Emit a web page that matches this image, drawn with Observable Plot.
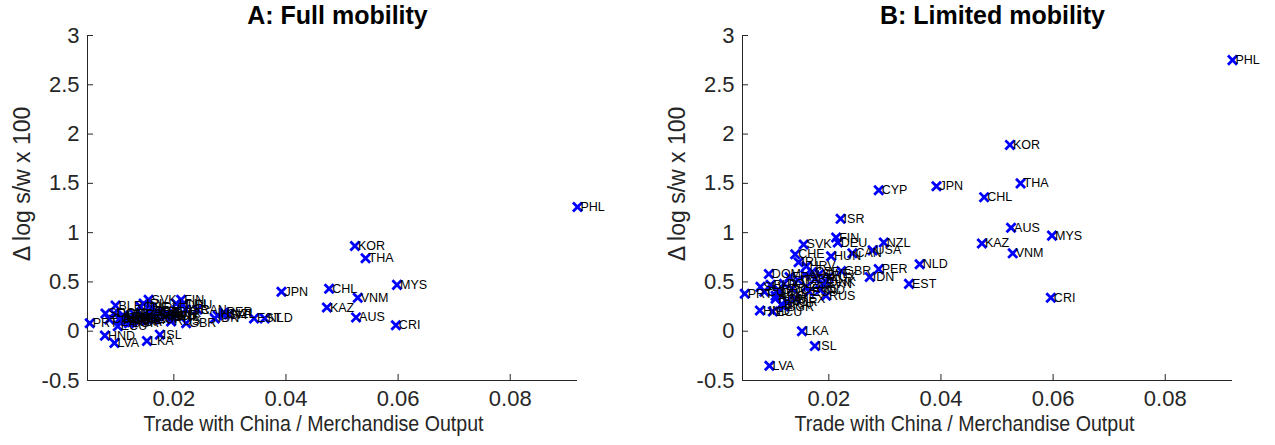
<!DOCTYPE html>
<html>
<head>
<meta charset="utf-8">
<script src="https://cdn.jsdelivr.net/npm/d3@7"></script>
<script src="https://cdn.jsdelivr.net/npm/@observablehq/plot@0.6"></script>
<style>
  html, body { margin: 0; padding: 0; background: #fff; }
  #wrap { position: relative; width: 1275px; height: 445px; overflow: hidden; }
  #wrap > div, #wrap > svg { position: absolute; top: 0; }
</style>
</head>
<body>
<div id="wrap"></div>
<script>
const countries = ["PHL","KOR","THA","JPN","CHL","CYP","ISR","AUS","MYS","KAZ","VNM","CRI","NLD","EST","IDN","PER","GBR","NZL","USA","FIN","DEU","SVK","CHE","HUN","CAN","IRL","HRV","DOM","PRT","HND","ECU","BRA","LKA","ISL","LVA","BLR","SLV","DNK","RUS","ESP","MEX","FRA","ITA","AUT","BEL","POL","CZE","SWE","NOR","GRC","TUR","ROU","BGR","LTU","SVN","IND","COL","ARG","ZAF","LUX"];
const tradeShare = [0.0920,0.0523,0.0542,0.0392,0.0477,0.0289,0.0221,0.0525,0.0598,0.0473,0.0528,0.0596,0.0362,0.0343,0.0273,0.0289,0.0222,0.0298,0.0278,0.0213,0.0216,0.0155,0.0140,0.0204,0.0242,0.0146,0.0160,0.0093,0.0050,0.0077,0.0100,0.0115,0.0152,0.0175,0.0094,0.0096,0.0078,0.0195,0.0195,0.0165,0.0140,0.0130,0.0145,0.0158,0.0175,0.0120,0.0170,0.0183,0.0125,0.0110,0.0135,0.0105,0.0120,0.0110,0.0190,0.0185,0.0085,0.0105,0.0160,0.0200];
const fullMobility = [1.26,0.865,0.74,0.40,0.43,0.17,0.22,0.14,0.47,0.24,0.34,0.06,0.13,0.13,0.13,0.19,0.08,0.17,0.16,0.32,0.27,0.32,0.25,0.28,0.22,0.28,0.24,0.18,0.08,-0.045,0.05,0.10,-0.10,-0.035,-0.12,0.26,0.18,0.14,0.10,0.12,0.11,0.17,0.16,0.19,0.18,0.14,0.20,0.16,0.09,0.13,0.12,0.11,0.08,0.16,0.17,0.15,0.12,0.14,0.14,0.18];
const limitedMobility = [2.75,1.89,1.50,1.47,1.36,1.43,1.14,1.05,0.97,0.89,0.79,0.34,0.68,0.48,0.55,0.63,0.61,0.90,0.82,0.95,0.90,0.88,0.78,0.76,0.79,0.70,0.66,0.58,0.38,0.21,0.20,0.27,0.00,-0.15,-0.35,0.47,0.45,0.50,0.36,0.40,0.33,0.55,0.52,0.57,0.53,0.48,0.60,0.58,0.30,0.42,0.43,0.33,0.25,0.38,0.48,0.42,0.40,0.36,0.45,0.55];

const panelTitles = ["A: Full mobility", "B: Limited mobility"];
const xTicks = [0.02, 0.04, 0.06, 0.08];
const xTickLabels = ["0.02", "0.04", "0.06", "0.08"];
const yTicks = [-0.5, 0, 0.5, 1, 1.5, 2, 2.5, 3];
const yTickLabels = ["-0.5", "0", "0.5", "1", "1.5", "2", "2.5", "3"];
const xLabel = "Trade with China / Merchandise Output";
const yLabel = "\u0394 log s/w x 100";

const xDomain = [0.0046, 0.092];
const yDomain = [-0.5, 3];
const font = "'Liberation Sans', Arial, Helvetica, sans-serif";
const ink = "#262626";

function panel(values, title, width, marginRight, xLabelDx) {
  const data = countries.map((c, i) => ({c, x: tradeShare[i], y: values[i]}));
  const plotW = width - 87 - marginRight;
  const plotH = 445 - 35 - 65;
  const xFmt = new Map(xTicks.map((t, i) => [t, xTickLabels[i]]));
  const yFmt = new Map(yTicks.map((t, i) => [t, yTickLabels[i]]));
  const svg = Plot.plot({
    width, height: 445,
    marginLeft: 87, marginRight, marginTop: 35, marginBottom: 65,
    style: {fontFamily: font, background: "transparent", overflow: "visible"},
    x: {domain: xDomain, axis: null},
    y: {domain: yDomain, axis: null},
    marks: [
      Plot.ruleX([xDomain[0]], {y1: yDomain[0], y2: yDomain[1], stroke: ink, strokeWidth: 1}),
      Plot.ruleY([yDomain[0]], {x1: xDomain[0], x2: xDomain[1], stroke: ink, strokeWidth: 1}),
      Plot.tickX(xTicks, {x: d => d, insetTop: plotH - 6, stroke: ink}),
      Plot.tickY(yTicks, {y: d => d, insetRight: plotW - 6, stroke: ink}),
      Plot.axisX({ticks: xTicks, tickFormat: d => xFmt.get(d), tickSize: 0, tickPadding: 10, fontSize: 22, fill: ink, label: null}),
      Plot.axisY({ticks: yTicks, tickFormat: d => yFmt.get(d), tickSize: 0, tickPadding: 8, fontSize: 22, fill: ink, label: null}),
      Plot.text([xLabel], {frameAnchor: "bottom", dy: 50, dx: xLabelDx, fontSize: 22, fill: ink}),
      Plot.text([yLabel], {frameAnchor: "left", dx: -65, dy: -24, rotate: -90, textAnchor: "middle", fontSize: 23, fill: ink}),
      Plot.text([title], {frameAnchor: "top", dy: -29, dx: 5, fontSize: 25, fontWeight: "bold", fill: "#000"}),
      Plot.dot(data, {x: "x", y: "y", symbol: "times", r: 4.2, stroke: "#0000ff", strokeWidth: 2.8}),
      Plot.text(data, {x: "x", y: "y", text: "c", dx: 3, textAnchor: "start", fontSize: 12.5, fill: "#000"})
    ]
  });
  // condense the x-axis label to the reference's width
  svg.querySelectorAll("text").forEach(t => {
    if (t.textContent === xLabel) {
      t.setAttribute("textLength", "340");
      t.setAttribute("lengthAdjust", "spacingAndGlyphs");
    }
  });
  return svg;
}

const wrap = document.getElementById("wrap");
const a = panel(fullMobility, panelTitles[0], 654, 77, -19);
a.style.left = "0px";
wrap.appendChild(a);
const b = panel(limitedMobility, panelTitles[1], 621, 44, -23);
b.style.left = "654.5px";
wrap.appendChild(b);
</script>
</body>
</html>
